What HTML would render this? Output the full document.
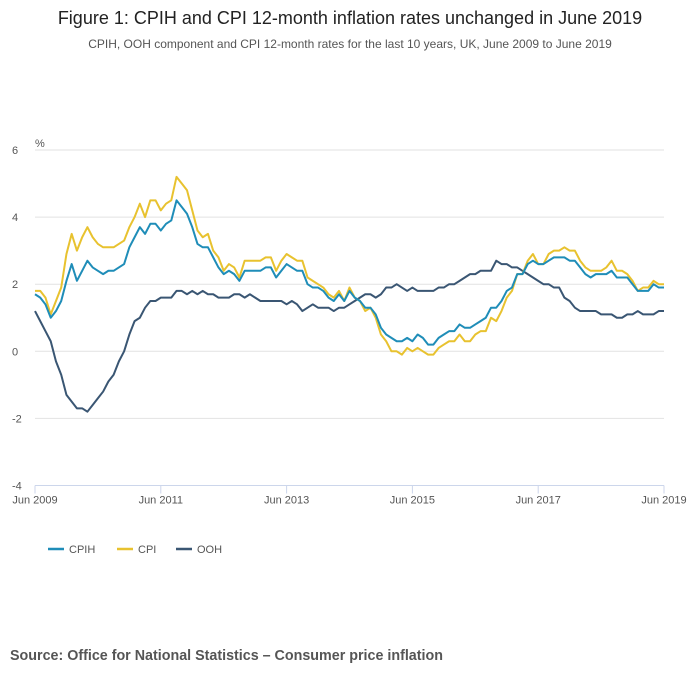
<!DOCTYPE html>
<html><head><meta charset="utf-8"><style>
body{margin:0;background:#fff;font-family:"Liberation Sans",sans-serif;}
#wrap{position:relative;width:700px;height:682px;overflow:hidden;}
</style></head><body>
<div id="wrap">
<svg id="chart" width="700" height="682">
<text x="350" y="24" text-anchor="middle" font-size="18" fill="#222">Figure 1: CPIH and CPI 12-month inflation rates unchanged in June 2019</text>
<text x="350" y="48" text-anchor="middle" font-size="12" fill="#555">CPIH, OOH component and CPI 12-month rates for the last 10 years, UK, June 2009 to June 2019</text>
<text x="35" y="147" font-size="11" fill="#555">%</text>
<g id="grid"></g><g id="lines"></g><g id="xaxis"></g>
<g>
<g><line x1="48" y1="549" x2="64" y2="549" stroke="#1f8db8" stroke-width="2.5"/><text x="69" y="553" font-size="11" fill="#555">CPIH</text></g>
<g><line x1="117" y1="549" x2="133" y2="549" stroke="#e8c22f" stroke-width="2.5"/><text x="138" y="553" font-size="11" fill="#555">CPI</text></g>
<g><line x1="176" y1="549" x2="192" y2="549" stroke="#3a5673" stroke-width="2.5"/><text x="197" y="553" font-size="11" fill="#555">OOH</text></g>
</g>
<text x="10" y="660" font-size="14.3" font-weight="bold" fill="#555">Source: Office for National Statistics – Consumer price inflation</text>
</svg></div>
<script>
const cpih=[1.7,1.6,1.4,1.0,1.2,1.5,2.1,
2.6,2.1,2.4,2.7,2.5,2.4,2.3,2.4,2.4,2.5,2.6,3.1,
3.4,3.7,3.5,3.8,3.8,3.6,3.8,3.9,4.5,4.3,4.1,3.7,
3.2,3.1,3.1,2.8,2.5,2.3,2.4,2.3,2.1,2.4,2.4,2.4,
2.4,2.5,2.5,2.2,2.4,2.6,2.5,2.4,2.4,2.0,1.9,1.9,
1.8,1.6,1.5,1.7,1.5,1.8,1.6,1.5,1.3,1.3,1.1,0.7,
0.5,0.4,0.3,0.3,0.4,0.3,0.5,0.4,0.2,0.2,0.4,0.5,
0.6,0.6,0.8,0.7,0.7,0.8,0.9,1.0,1.3,1.3,1.5,1.8,
1.9,2.3,2.3,2.6,2.7,2.6,2.6,2.7,2.8,2.8,2.8,2.7,
2.7,2.5,2.3,2.2,2.3,2.3,2.3,2.4,2.2,2.2,2.2,2.0,
1.8,1.8,1.8,2.0,1.9,1.9];
const cpi=[1.8,1.8,1.6,1.1,1.5,1.9,2.9,
3.5,3.0,3.4,3.7,3.4,3.2,3.1,3.1,3.1,3.2,3.3,3.7,
4.0,4.4,4.0,4.5,4.5,4.2,4.4,4.5,5.2,5.0,4.8,4.2,
3.6,3.4,3.5,3.0,2.8,2.4,2.6,2.5,2.2,2.7,2.7,2.7,
2.7,2.8,2.8,2.4,2.7,2.9,2.8,2.7,2.7,2.2,2.1,2.0,
1.9,1.7,1.6,1.8,1.5,1.9,1.6,1.5,1.2,1.3,1.0,0.5,
0.3,0.0,0.0,-0.1,0.1,0.0,0.1,0.0,-0.1,-0.1,0.1,0.2,
0.3,0.3,0.5,0.3,0.3,0.5,0.6,0.6,1.0,0.9,1.2,1.6,
1.8,2.3,2.3,2.7,2.9,2.6,2.6,2.9,3.0,3.0,3.1,3.0,
3.0,2.7,2.5,2.4,2.4,2.4,2.5,2.7,2.4,2.4,2.3,2.1,
1.8,1.9,1.9,2.1,2.0,2.0];
const ooh=[1.2,0.9,0.6,0.3,-0.3,-0.7,-1.3,
-1.5,-1.7,-1.7,-1.8,-1.6,-1.4,-1.2,-0.9,-0.7,-0.3,0.0,0.5,
0.9,1.0,1.3,1.5,1.5,1.6,1.6,1.6,1.8,1.8,1.7,1.8,
1.7,1.8,1.7,1.7,1.6,1.6,1.6,1.7,1.7,1.6,1.7,1.6,
1.5,1.5,1.5,1.5,1.5,1.4,1.5,1.4,1.2,1.3,1.4,1.3,
1.3,1.3,1.2,1.3,1.3,1.4,1.5,1.6,1.7,1.7,1.6,1.7,
1.9,1.9,2.0,1.9,1.8,1.9,1.8,1.8,1.8,1.8,1.9,1.9,
2.0,2.0,2.1,2.2,2.3,2.3,2.4,2.4,2.4,2.7,2.6,2.6,
2.5,2.5,2.4,2.3,2.2,2.1,2.0,2.0,1.9,1.9,1.6,1.5,
1.3,1.2,1.2,1.2,1.2,1.1,1.1,1.1,1.0,1.0,1.1,1.1,
1.2,1.1,1.1,1.1,1.2,1.2];
const yTicks=[6,4,2,0,-2,-4];
const xTickLabels=["Jun 2009","Jun 2011","Jun 2013","Jun 2015","Jun 2017","Jun 2019"];
const xTickIndex=[0,24,48,72,96,120];
const NS='http://www.w3.org/2000/svg';
const X0=35,X1=664,Y0=150,Y1=485.5,ymin=-4,ymax=6,N=120;
const xs=i=>X0+(X1-X0)*i/N;
const ys=v=>Y1-(v-ymin)/(ymax-ymin)*(Y1-Y0);
function mk(t,a,p){const e=document.createElementNS(NS,t);for(const k in a)e.setAttribute(k,a[k]);p.appendChild(e);return e;}
const grid=document.getElementById('grid');
yTicks.forEach(v=>{
 if(v!==ymin){const l=mk('line',{x1:X0,x2:X1,y1:ys(v),y2:ys(v),stroke:'#e2e2e2','stroke-width':1},grid);
 
 }
 const t=mk('text',{x:12,y:ys(v)+4,'font-size':11,fill:'#555'},grid);t.textContent=v;
 
 
});
const xa=document.getElementById('xaxis');
const ax=mk('line',{x1:X0,x2:X1,y1:Y1,y2:Y1,stroke:'#ccd6eb','stroke-width':1},xa);


xTickIndex.forEach((idx,k)=>{
 const x=xs(idx);
 const tk=mk('line',{x1:x,x2:x,y1:Y1,y2:Y1+8,stroke:'#ccd6eb'},xa);
 
 
 const t=mk('text',{x:x,y:Y1+18,'font-size':11,fill:'#555','text-anchor':'middle'},xa);t.textContent=xTickLabels[k];
 
 
});
const lg=document.getElementById('lines');
[[ooh,'#3a5673','ooh-line'],[cpi,'#e8c22f','cpi-line'],[cpih,'#1f8db8','cpih-line']].forEach(([d,c,n])=>{
 const p=mk('path',{d:d.map((v,i)=>(i?'L':'M')+xs(i).toFixed(2)+','+ys(v).toFixed(2)).join(''),fill:'none',stroke:c,'stroke-width':2,'stroke-linejoin':'round'},lg);
 
 
});
</script>
</body></html>
